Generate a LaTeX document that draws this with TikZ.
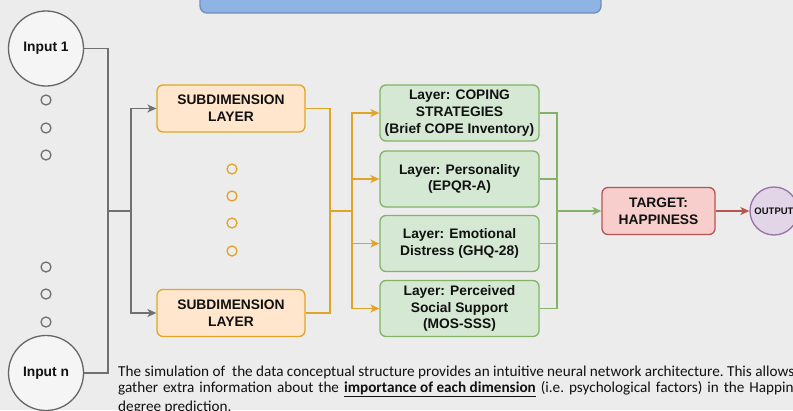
\documentclass[tikz,border=0pt]{standalone}
\usepackage{fontspec}
\setmainfont{Liberation Sans}
\newfontfamily\captfont{Carlito}
\usetikzlibrary{arrows.meta}
\definecolor{bg}{HTML}{ECECEC}
\definecolor{ingray}{HTML}{666666}
\definecolor{infill}{HTML}{F5F5F5}
\definecolor{linegray}{HTML}{707070}
\definecolor{orstroke}{HTML}{E0A526}
\definecolor{orfill}{HTML}{FFE6CC}
\definecolor{grstroke}{HTML}{82B366}
\definecolor{grfill}{HTML}{D5E8D4}
\definecolor{rdstroke}{HTML}{B85450}
\definecolor{rdfill}{HTML}{F8CECC}
\definecolor{pustroke}{HTML}{9673A6}
\definecolor{pufill}{HTML}{E1D5E7}
\definecolor{blstroke}{HTML}{6C8EBF}
\definecolor{blfill}{HTML}{8FB4E3}
\definecolor{txt}{HTML}{111111}
\begin{document}
\begin{tikzpicture}[x=1pt,y=-1pt,
  lbl/.style={font=\bfseries\fontsize{13.8}{16.7}\selectfont, text=txt, align=center},
  inp/.style={circle, draw=ingray, fill=infill, line width=1.3pt, minimum size=75pt, inner sep=0pt, lbl},
  dotg/.style={circle, draw=linegray, line width=1.3pt, minimum size=10pt, inner sep=0pt},
  doto/.style={circle, draw=orstroke, line width=1.3pt, minimum size=10pt, inner sep=0pt},
  subbox/.style={rectangle, rounded corners=6pt, draw=orstroke, fill=orfill, line width=1.3pt, minimum width=148pt, minimum height=47pt, lbl},
  grbox/.style={rectangle, rounded corners=6pt, draw=grstroke, fill=grfill, line width=1.3pt, minimum width=159pt, minimum height=56pt, inner sep=1pt, lbl},
  tgbox/.style={rectangle, rounded corners=6pt, draw=rdstroke, fill=rdfill, line width=1.3pt, minimum width=113pt, minimum height=47pt, lbl},
  outc/.style={circle, draw=pustroke, fill=pufill, line width=1.3pt, minimum size=48pt, inner sep=0pt, font=\bfseries\fontsize{9.5}{11}\selectfont, text=txt},
  gline/.style={draw=linegray, line width=1.3pt},
  oline/.style={draw=orstroke, line width=1.3pt},
  gnline/.style={draw=grstroke, line width=1.3pt},
  rline/.style={draw=rdstroke, line width=1.3pt},
  tip/.style={-{Stealth[length=9pt,width=8pt,inset=2.5pt]}},
  capt/.style={anchor=base west, inner sep=0pt, font=\captfont\fontsize{15.2}{16}\selectfont\frenchspacing, text=txt}
]
\useasboundingbox (0,0) rectangle (793,410);
\clip (0,0) rectangle (793,410);
\fill[bg] (0,0) rectangle (793,410);

% top blue box
\node[draw=blstroke, fill=blfill, line width=1.3pt, rounded corners=7pt, minimum width=401pt, minimum height=30pt] (top) at (400.5,-2) {};

% inputs
\node[inp] (in1) at (46,48.5) {Input 1};
\node[inp] (inn) at (46,373) {Input n};
\foreach \y [count=\i] in {100,128,155,267,294,322} \node[dotg] (gd\i) at (46,\y) {};

% subdimension layers
\node[subbox] (sub1) at (231,108.5) {SUBDIMENSION\\LAYER};
\node[subbox] (sub2) at (231,313) {SUBDIMENSION\\LAYER};
\foreach \y [count=\i] in {169,196,223,251} \node[doto] (od\i) at (232,\y) {};

% green layers
\node[grbox] (l1) at (459.5,113) {Layer: COPING\\STRATEGIES\\(Brief COPE Inventory)};
\node[grbox] (l2) at (459.5,179) {Layer: Personality\\(EPQR-A)};
\node[grbox] (l3) at (459.5,243.5) {Layer: Emotional\\Distress (GHQ-28)};
\node[grbox] (l4) at (459.5,308.5) {Layer: Perceived\\Social Support\\(MOS-SSS)};

% target and output
\node[tgbox] (tg) at (658.5,211) {TARGET:\\HAPPINESS};
\node[outc] (out) at (774,211) {OUTPUT};

% gray connectors
\coordinate (g1) at (108,211);
\coordinate (g2) at (131,211);
\draw[gline] (in1.east) -| (g1);
\draw[gline] (inn.east) -| (g1);
\draw[gline] (g1) -- (g2);
\draw[gline,tip] (g2) |- (sub1.west);
\draw[gline,tip] (g2) |- (sub2.west);

% orange connectors
\coordinate (o1) at (330,211);
\coordinate (o2) at (352,211);
\draw[oline] (sub1.east) -| (o1);
\draw[oline] (sub2.east) -| (o1);
\draw[oline] (o1) -- (o2);
\foreach \n in {l1,l2,l3,l4} \draw[oline,tip] (o2) |- (\n.west);

% green connectors
\coordinate (r1) at (557,211);
\foreach \n in {l1,l2,l3,l4} \draw[gnline] (\n.east) -| (r1);
\draw[gnline,tip] (r1) -- (tg.west);

% red connector
\draw[rline,tip] (tg.east) -- (out.west);

% caption
\node[capt] (c1) at (118,376) {The simulation of\ \ the data conceptual structure provides an intuitive neural network architecture. This allows};
\node[capt] (c2) at (118,392) {\makebox[695pt][s]{gather extra information about the \textbf{\underline{importance of each dimension}} (i.e. psychological factors) in the Happiness}};
\node[capt] (c3) at (118,411) {degree prediction.};
\end{tikzpicture}
\end{document}
